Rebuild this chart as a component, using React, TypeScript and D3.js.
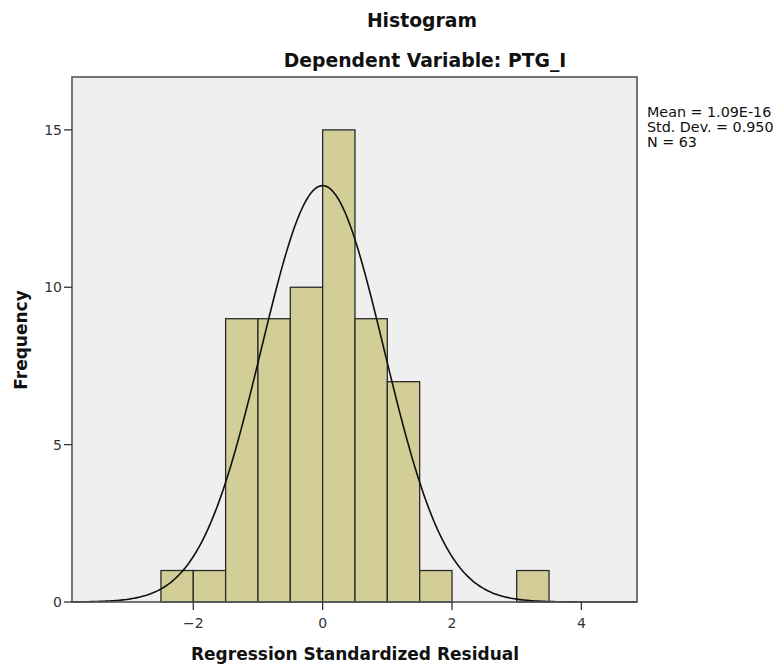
import { useMemo } from "react";
import * as d3 from "d3";

const binStarts = [-2.5, -2, -1.5, -1, -0.5, 0, 0.5, 1, 1.5, 3];
const counts = [1, 1, 9, 9, 10, 15, 9, 7, 1, 1];
const binWidth = 0.5;
const xTicks = [-2, 0, 2, 4];
const yTicks = [0, 5, 10, 15];
const statLines = ["Mean = 1.09E-16", "Std. Dev. = 0.950", "N = 63"];
const mean = 0;
const sd = 0.95;
const n = 63;

const FONT = "'DejaVu Sans', 'Liberation Sans', sans-serif";

export default function App() {
  const W = 777;
  const H = 668;
  const plot = { left: 72, right: 637, top: 77, bottom: 602 };

  const x = d3.scaleLinear().domain([-3.875, 4.86]).range([plot.left, plot.right]);
  const y = d3.scaleLinear().domain([0, 16.68]).range([plot.bottom, plot.top]);

  // fitted normal curve, scaled to counts per bin
  const curve = useMemo(() => {
    const [x0, x1] = x.domain();
    const pts = d3.range(0, 301).map((i) => {
      const v = x0 + ((x1 - x0) * i) / 300;
      const pdf = Math.exp(-0.5 * ((v - mean) / sd) ** 2) / (sd * Math.sqrt(2 * Math.PI));
      return [v, n * binWidth * pdf] as [number, number];
    });
    return d3.line<[number, number]>().x((d) => x(d[0])).y((d) => y(d[1]))(pts) ?? "";
  }, []);

  return (
    <svg width={W} height={H} style={{ display: "block", position: "absolute", left: 0, top: 0 }}>
      <rect width={W} height={H} fill="#fff" />
      <text x={422} y={27} textAnchor="middle" fontFamily={FONT} fontWeight="bold" fontSize={18.8} fill="#111">
        Histogram
      </text>
      <text x={425} y={67} textAnchor="middle" fontFamily={FONT} fontWeight="bold" fontSize={18.8} fill="#111">
        Dependent Variable: PTG_I
      </text>

      <rect
        x={plot.left}
        y={plot.top}
        width={plot.right - plot.left}
        height={plot.bottom - plot.top}
        fill="#efefef"
      />

      {binStarts.map((b, i) => (
        <rect
          key={i}
          x={x(b)}
          y={y(counts[i])}
          width={x(b + binWidth) - x(b)}
          height={y(0) - y(counts[i])}
          fill="#d3ce97"
          stroke="#2b2b2b"
          strokeWidth={1.3}
        />
      ))}

      <path d={curve} fill="none" stroke="#111" strokeWidth={1.6} />

      <rect
        x={plot.left}
        y={plot.top}
        width={plot.right - plot.left}
        height={plot.bottom - plot.top}
        fill="none"
        stroke="#555"
        strokeWidth={1.6}
      />

      {yTicks.map((t) => (
        <g key={t}>
          <line x1={plot.left - 8} x2={plot.left} y1={y(t)} y2={y(t)} stroke="#333" strokeWidth={1.3} />
          <text x={plot.left - 10} y={y(t)} dy="0.35em" textAnchor="end" fontFamily={FONT} fontSize={14} fill="#333">
            {t}
          </text>
        </g>
      ))}

      {xTicks.map((t) => (
        <g key={t}>
          <line x1={x(t)} x2={x(t)} y1={plot.bottom} y2={plot.bottom + 8} stroke="#333" strokeWidth={1.3} />
          <text x={x(t)} y={plot.bottom + 26} textAnchor="middle" fontFamily={FONT} fontSize={14} fill="#333">
            {t < 0 ? `\u2212${Math.abs(t)}` : t}
          </text>
        </g>
      ))}

      <text x={355} y={660} textAnchor="middle" fontFamily={FONT} fontWeight="bold" fontSize={17} fill="#111">
        Regression Standardized Residual
      </text>
      <text
        transform={`translate(27,${340}) rotate(-90)`}
        textAnchor="middle"
        fontFamily={FONT}
        fontWeight="bold"
        fontSize={17}
        fill="#111"
      >
        Frequency
      </text>

      {statLines.map((s, i) => (
        <text key={s} x={647} y={117 + i * 14.8} fontFamily={FONT} fontSize={14.3} fill="#111">
          {s}
        </text>
      ))}
    </svg>
  );
}
